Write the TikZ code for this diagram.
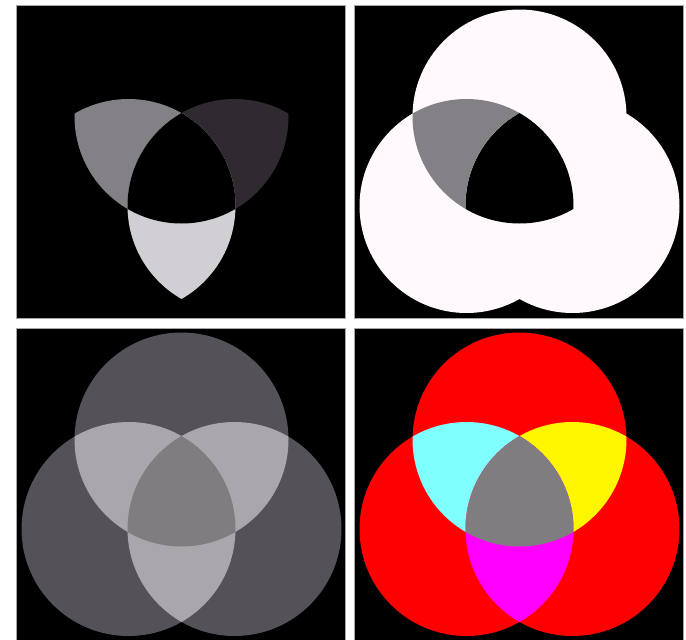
\documentclass[tikz,border=0pt]{standalone}
\definecolor{blush}{HTML}{FFF8FC}
\definecolor{lensgray}{HTML}{838185}
\definecolor{lensdark}{HTML}{2F2A2F}
\definecolor{lenslight}{HTML}{D1CFD3}
\definecolor{ringgray}{HTML}{545258}
\definecolor{pairgray}{HTML}{A9A7AB}
\definecolor{midgray}{HTML}{7F7D80}
\definecolor{skycyan}{HTML}{80FFFF}
\definecolor{brightyellow}{HTML}{FFF700}
\definecolor{fullred}{HTML}{FF0000}
\definecolor{fullmagenta}{HTML}{FF00FF}
\tikzset{
  panel/.style={fill=black, draw=gray!70, line width=0.8pt}
}
% the three circles of one panel
\def\ctop{(165.5,111.5) circle[radius=107pt]}
\def\cleft{(112.5,201) circle[radius=107pt]}
\def\cright{(218.5,201) circle[radius=107pt]}
\begin{document}
\begin{tikzpicture}[x=1pt, y=-1pt]
\useasboundingbox (0,0) rectangle (686,640);
\fill[white] (0,0) rectangle (686,640);
\foreach \px/\py/\h/\cone/\ctl/\ctrr/\clr/\cmid in {
  16/5/313/black/lensgray/lensdark/lenslight/black,
  354/5/313/blush/lensgray/blush/blush/black,
  16/328/312/ringgray/pairgray/pairgray/pairgray/midgray,
  354/328/312/fullred/skycyan/brightyellow/fullmagenta/midgray}{
\begin{scope}[xshift=\px pt, yshift=-\py pt]
  \path[panel] (0,0) rectangle (329,\h);
  % single circles
  \fill[\cone] \ctop \cleft \cright;
  % pairwise lenses
  \begin{scope}
    \clip \ctop; \fill[\ctl] \cleft;
  \end{scope}
  \begin{scope}
    \clip \ctop; \fill[\ctrr] \cright;
  \end{scope}
  \begin{scope}
    \clip \cleft; \fill[\clr] \cright;
  \end{scope}
  % middle of all three
  \begin{scope}
    \clip \ctop; \clip \cleft; \fill[\cmid] \cright;
  \end{scope}
\end{scope}
}
\end{tikzpicture}
\end{document}
